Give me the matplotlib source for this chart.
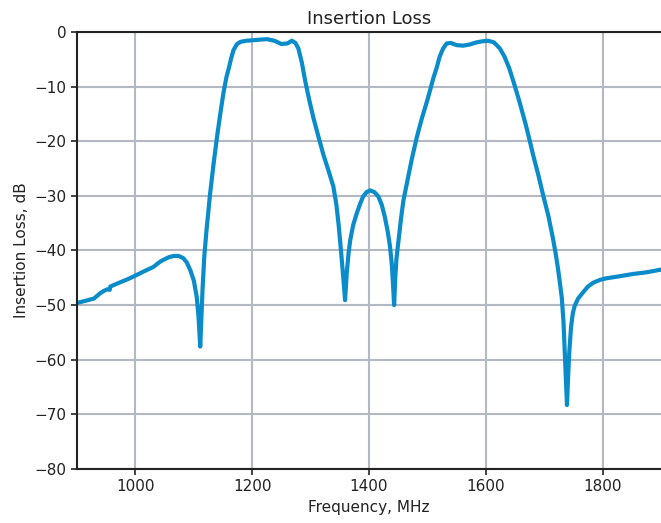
import matplotlib.pyplot as plt

freq_mhz = [900, 915, 929, 940, 946, 952, 956, 957, 970, 986, 1000, 1015, 1031, 1038,
            1043, 1050, 1058, 1066, 1074, 1082, 1088, 1094, 1100, 1105, 1108, 1111,
            1113, 1115, 1118, 1122, 1128, 1134, 1140, 1146, 1151, 1156, 1160, 1164,
            1168, 1174, 1180, 1190, 1202, 1214, 1225, 1238, 1250, 1260, 1268, 1274,
            1279, 1285, 1291, 1298, 1305, 1313, 1322, 1331, 1339, 1344, 1348, 1352,
            1356, 1359, 1362, 1365, 1368, 1373, 1379, 1385, 1390, 1396, 1402, 1409,
            1416, 1422, 1427, 1432, 1436, 1439, 1441, 1443, 1445, 1447, 1450, 1455,
            1459, 1465, 1473, 1482, 1490, 1499, 1505, 1510, 1516, 1521, 1527, 1533,
            1540, 1550, 1561, 1572, 1584, 1594, 1604, 1614, 1624, 1632, 1640, 1648,
            1658, 1668, 1675, 1681, 1690, 1698, 1707, 1715, 1720, 1724, 1727, 1730,
            1733, 1735, 1737, 1739, 1741, 1743, 1746, 1749, 1752, 1758, 1767, 1775,
            1784, 1795, 1806, 1830, 1852, 1875, 1900]
loss_db = [-49.6, -49.2, -48.8, -47.8, -47.4, -47.1, -47.2, -46.6, -46.0, -45.3, -44.6,
           -43.8, -43.0, -42.4, -42.0, -41.6, -41.2, -41.0, -41.0, -41.4, -42.2, -43.6,
           -45.5, -48.5, -52.0, -57.6, -52.5, -47.0, -41.0, -36.0, -29.5, -24.0, -19.0,
           -14.5, -11.0, -8.2, -6.6, -4.8, -3.3, -2.2, -1.8, -1.6, -1.5, -1.4, -1.3,
           -1.6, -2.2, -2.1, -1.6, -2.0, -3.0, -5.6, -9.1, -12.6, -15.8, -19.0, -22.5,
           -25.5, -28.3, -31.5, -35.3, -40.0, -45.0, -49.1, -44.0, -40.5, -38.0, -35.3,
           -33.2, -31.4, -30.1, -29.3, -29.0, -29.3, -30.1, -31.7, -33.8, -36.5, -39.3,
           -42.5, -46.0, -50.0, -45.0, -41.5, -38.7, -34.0, -30.8, -27.6, -23.4, -19.2,
           -16.0, -12.8, -10.5, -8.5, -6.5, -4.5, -3.0, -2.1, -2.0, -2.4, -2.5, -2.3,
           -1.9, -1.7, -1.6, -1.9, -3.0, -4.5, -6.6, -9.3, -12.9, -16.8, -19.8, -22.5,
           -26.2, -29.8, -33.6, -37.8, -40.8, -43.6, -46.0, -48.5, -53.0, -58.0, -63.0,
           -68.3, -63.0, -58.5, -54.0, -51.5, -50.2, -48.8, -47.6, -46.6, -45.9, -45.4,
           -45.1, -44.7, -44.3, -44.0, -43.5]

plt.rcParams['font.family'] = 'DejaVu Sans'
plt.rcParams['text.color'] = '#222222'
plt.rcParams['axes.labelcolor'] = '#222222'
plt.rcParams['xtick.color'] = '#222222'
plt.rcParams['ytick.color'] = '#222222'

fig = plt.figure(figsize=(6.61, 5.23), dpi=100)
ax = fig.add_axes([0.1165, 0.1033, 0.8835, 0.8355])

ax.plot(freq_mhz, loss_db, color='#0a8ccb', linewidth=3, solid_joinstyle='round')

ax.set_xlim(900, 1900)
ax.set_ylim(-80, 0)
ax.set_xticks([1000, 1200, 1400, 1600, 1800])
ax.set_yticks(range(-80, 1, 10))
ax.grid(True, color='#b3b8c2', linewidth=1.5)
ax.set_axisbelow(True)

for side in ['left', 'top', 'bottom']:
    ax.spines[side].set_color('#222222')
    ax.spines[side].set_linewidth(1.5)
ax.spines['right'].set_visible(False)
ax.tick_params(labelsize=11, length=4, width=1.2)

ax.set_title('Insertion Loss', fontsize=13)
ax.set_xlabel('Frequency, MHz', fontsize=11)
ax.set_ylabel('Insertion Loss, dB', fontsize=11)

fig.savefig('out.png', dpi=100)
